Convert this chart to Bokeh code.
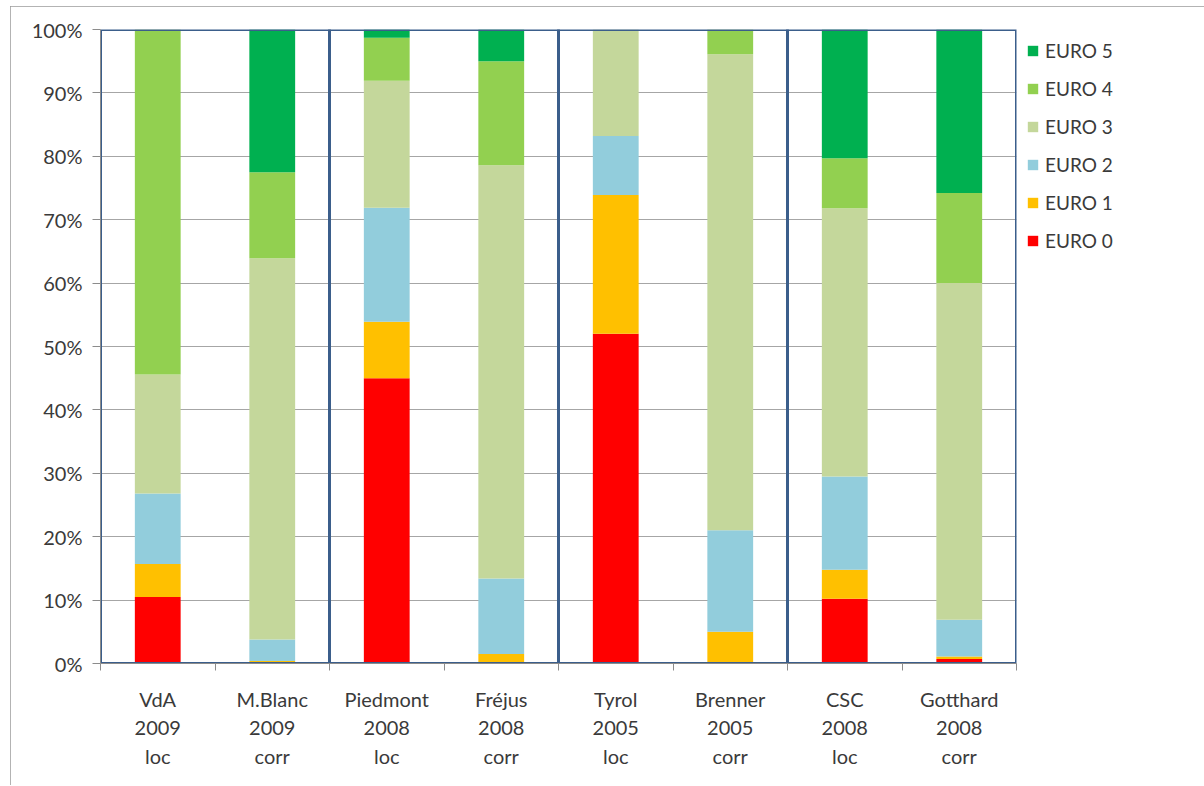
from bokeh.plotting import figure
from bokeh.models import (ColumnDataSource, Range1d, FixedTicker, Legend, LegendItem)
from bokeh.embed import file_html
from bokeh.resources import INLINE

# ---- data ----
sites = ["VdA", "M.Blanc", "Piedmont", "Fréjus", "Tyrol", "Brenner", "CSC", "Gotthard"]
years = ["2009", "2009", "2008", "2008", "2005", "2005", "2008", "2008"]
kinds = ["loc", "corr", "loc", "corr", "loc", "corr", "loc", "corr"]

euro0 = [10.5, 0.0, 45.0, 0.0, 52.0, 0.0, 10.2, 0.7]
euro1 = [5.2, 0.4, 8.9, 1.5, 21.9, 5.0, 4.6, 0.4]
euro2 = [11.1, 3.4, 18.0, 11.9, 9.3, 16.0, 14.7, 5.8]
euro3 = [18.8, 60.1, 20.0, 65.2, 16.8, 75.1, 42.3, 53.1]
euro4 = [54.4, 13.6, 6.8, 16.4, 0.0, 3.9, 7.9, 14.2]
euro5 = [0.0, 22.5, 1.3, 5.0, 0.0, 0.0, 20.3, 25.8]

series_names = ["EURO 0", "EURO 1", "EURO 2", "EURO 3", "EURO 4", "EURO 5"]
series_values = [euro0, euro1, euro2, euro3, euro4, euro5]
colors = ["#FF0000", "#FFC000", "#92CDDC", "#C4D79B", "#92D050", "#00B050"]

y_ticks = [0, 10, 20, 30, 40, 50, 60, 70, 80, 90, 100]
groups = [(0, 2), (2, 4), (4, 6), (6, 8)]  # pairs of categories framed together

FONT = "Lato"
TEXT_COLOR = "#3a3a3a"

n = len(sites)
xpos = [i + 0.5 for i in range(n)]
data = {"x": xpos}
for name, vals in zip(series_names, series_values):
    data[name] = vals
source = ColumnDataSource(data)

FW, FH = 916, 634
p = figure(frame_width=FW, frame_height=FH, output_backend="svg", toolbar_location=None,
           x_range=Range1d(0, n), y_range=Range1d(0, 100),
           min_border_left=90, min_border_right=186, min_border_top=23,
           min_border_bottom=122)
p.styles = {"outline": "1px solid #9a9a9a", "outline-offset": "-1px",
            "margin": "6px 0px 0px 10px"}
p.outline_line_color = None
p.background_fill_color = "white"
p.border_fill_color = "white"

renderers = p.vbar_stack(series_names, x="x", width=0.4, color=colors,
                         line_color=None, source=source)

# group frames
p.quad(left=[g[0] for g in groups], right=[g[1] for g in groups],
       bottom=[y_ticks[0]] * len(groups), top=[y_ticks[-1]] * len(groups),
       fill_color=None, line_color="#3B5E8B", line_width=3)

# grid
p.xgrid.grid_line_color = None
p.ygrid.grid_line_color = "#A6A6A6"
p.ygrid.grid_line_width = 1

# y axis
p.yaxis.ticker = FixedTicker(ticks=y_ticks)
p.yaxis.major_label_overrides = {t: f"{t}%" for t in y_ticks}
p.yaxis.major_label_text_font = FONT
p.yaxis.major_label_text_font_size = "20px"
p.yaxis.major_label_text_color = TEXT_COLOR
p.yaxis.major_tick_out = 8
p.yaxis.major_tick_in = 0
p.yaxis.minor_tick_out = 0
p.yaxis.minor_tick_in = 0
p.yaxis.major_tick_line_color = "#8c8c8c"
p.yaxis.axis_line_color = "#8c8c8c"
p.yaxis.major_label_standoff = 10

# x axis: labels at bar centres, ticks at category boundaries
p.xaxis.ticker = FixedTicker(ticks=xpos, minor_ticks=list(range(n + 1)))
p.xaxis.major_label_overrides = {x: f"{s}\n{y}\n{k}" for x, s, y, k in zip(xpos, sites, years, kinds)}
p.xaxis.major_label_text_font = FONT
p.xaxis.major_label_text_font_size = "20px"
p.xaxis.major_label_text_color = TEXT_COLOR
p.xaxis.major_label_text_line_height = 1.2
p.xaxis.major_tick_out = 0
p.xaxis.major_tick_in = 0
p.xaxis.minor_tick_out = 7
p.xaxis.minor_tick_in = 0
p.xaxis.minor_tick_line_color = "#8c8c8c"
p.xaxis.axis_line_color = "#8c8c8c"
p.xaxis.major_label_standoff = 16

# legend (right of the plot frame)
items = [LegendItem(label=name, renderers=[r]) for name, r in zip(series_names, renderers)]
legend = Legend(items=list(reversed(items)), location="top_left")
legend.label_text_font = FONT
legend.label_text_font_size = "19px"
legend.label_text_color = TEXT_COLOR
legend.glyph_width = 13
legend.glyph_height = 13
legend.label_height = 20
legend.label_standoff = 6
legend.spacing = 15
legend.padding = 0
legend.margin = 10
legend.border_line_color = None
legend.background_fill_alpha = 0
p.add_layout(legend, "right")

open("out.html", "w").write(file_html(p, INLINE))
